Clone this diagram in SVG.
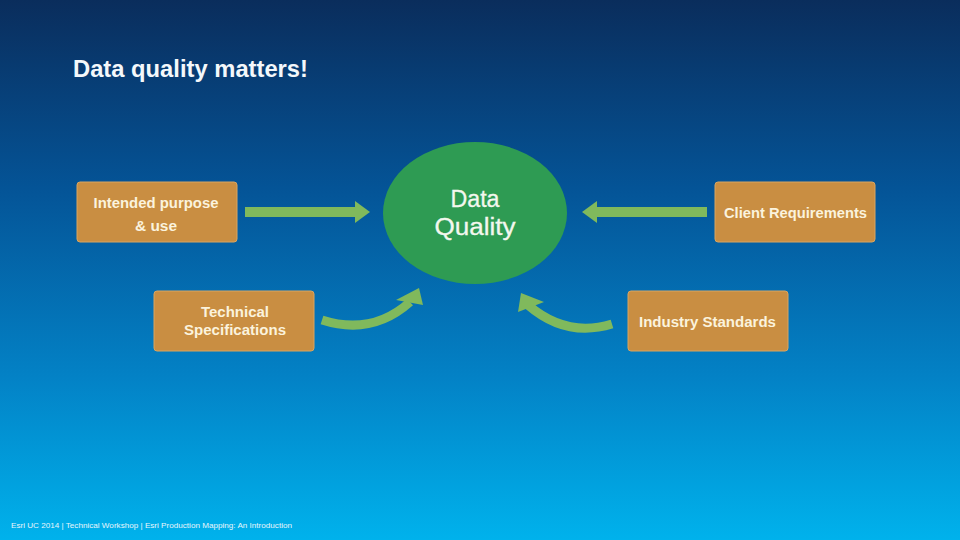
<svg xmlns="http://www.w3.org/2000/svg" width="960" height="540" viewBox="0 0 960 540">
<defs>
<linearGradient id="bg" x1="0" y1="0" x2="0" y2="1">
<stop offset="0" stop-color="#0a2d5c"/>
<stop offset="0.35" stop-color="#045497"/>
<stop offset="0.7" stop-color="#0382c6"/>
<stop offset="1" stop-color="#00b2ec"/>
</linearGradient>
<style>
.box{fill:#c98e42;stroke:#d9a560;stroke-width:1}
.bt{font-family:"Liberation Sans",Arial,sans-serif;font-size:14px;font-weight:bold;fill:#fbf3dd;text-anchor:middle}
.dt{font-family:"Liberation Sans",Arial,sans-serif;font-size:23px;fill:#f3f7ee;text-anchor:middle;stroke:#f3f7ee;stroke-width:0.3}
.arr{fill:#80b95c}
.shaft{fill:none;stroke:#80b95c;stroke-width:9}
</style>
</defs>
<rect width="960" height="540" fill="url(#bg)"/>
<text x="73" y="77" font-family="Liberation Sans, Arial, sans-serif" font-size="24" font-weight="bold" fill="#f4f8fb" textLength="235" lengthAdjust="spacingAndGlyphs">Data quality matters!</text>

<g id="dq">
<ellipse cx="475" cy="213" rx="92" ry="71" fill="#2e9b53"/>
<text class="dt" x="475" y="207" textLength="49" lengthAdjust="spacingAndGlyphs">Data</text>
<text class="dt" x="475" y="235" textLength="81" lengthAdjust="spacingAndGlyphs">Quality</text>
</g>
<g id="intended">
<rect class="box" x="77" y="182" width="160" height="60" rx="3"/>
<text class="bt" x="156" y="208" textLength="125" lengthAdjust="spacingAndGlyphs">Intended purpose</text>
<text class="bt" x="156" y="231" textLength="42" lengthAdjust="spacingAndGlyphs">&amp; use</text>
</g>
<g id="client">
<rect class="box" x="715" y="182" width="160" height="60" rx="3"/>
<text class="bt" x="795.5" y="218" textLength="143" lengthAdjust="spacingAndGlyphs">Client Requirements</text>
</g>
<g id="tech">
<rect class="box" x="154" y="291" width="160" height="60" rx="3"/>
<text class="bt" x="235" y="317" textLength="68" lengthAdjust="spacingAndGlyphs">Technical</text>
<text class="bt" x="235" y="335" textLength="102" lengthAdjust="spacingAndGlyphs">Specifications</text>
</g>
<g id="industry">
<rect class="box" x="628" y="291" width="160" height="60" rx="3"/>
<text class="bt" x="707.5" y="327" textLength="137" lengthAdjust="spacingAndGlyphs">Industry Standards</text>
</g>

<g id="connectors">
<rect class="arr" x="245" y="207" width="112" height="10"/>
<polygon class="arr" points="355,201 370,212 355,223"/>
<rect class="arr" x="595" y="207" width="112" height="10"/>
<polygon class="arr" points="597,201 582,212 597,223"/>
<path class="shaft" d="M322,320 Q372,336 410,302"/>
<polygon class="arr" points="419,288 423,305 396,300"/>
<path class="shaft" d="M612,324 Q566,338 528,305"/>
<polygon class="arr" points="521,293 544,302 518,312"/>
</g>

<text x="11" y="528" font-family="Liberation Sans, Arial, sans-serif" font-size="8" fill="#e8f6fc" textLength="281" lengthAdjust="spacingAndGlyphs">Esri UC 2014 | Technical Workshop |  Esri Production Mapping: An Introduction</text>
</svg>
